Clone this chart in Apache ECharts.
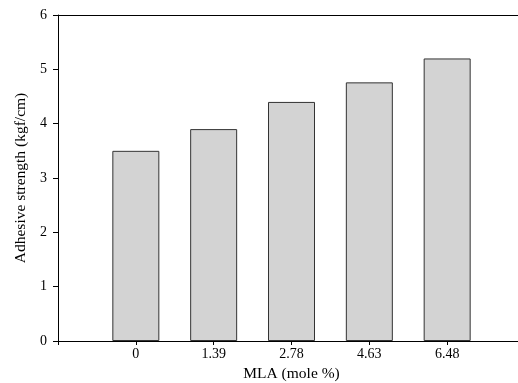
<!DOCTYPE html>
<html><head><meta charset="utf-8">
<script src="https://cdn.jsdelivr.net/npm/echarts@6/dist/echarts.min.js"></script>
<style>html,body{margin:0;padding:0;background:#fff}#c{width:518px;height:383px}</style>
</head><body><div id="c"></div>
<script>
var categories = ['', '0', '1.39', '2.78', '4.63', '6.48', ''];
var strength = [null, 3.5, 3.9, 4.4, 4.76, 5.2, null];
var yTicks = [0, 1, 2, 3, 4, 5, 6];
var font = '"Liberation Serif", "Times New Roman", serif';
var chart = echarts.init(document.getElementById('c'));
chart.setOption({
  animation: false,
  grid: {left: 58, width: 467, top: 15, height: 326, containLabel: false, outerBoundsMode: 'none'},
  xAxis: [{
    type: 'category', data: categories, boundaryGap: false,
    name: 'MLA (mole %)', nameLocation: 'middle', nameGap: 18,
    nameTextStyle: {fontFamily: font, fontSize: 15.5, color: '#000'},
    axisLine: {lineStyle: {color: '#000', width: 1}},
    axisTick: {show: true, length: 4, lineStyle: {color: '#000'}},
    axisLabel: {fontFamily: font, fontSize: 14, color: '#000', margin: 6, interval: 0}
  }, {
    type: 'category', data: categories, boundaryGap: false, position: 'top',
    axisLine: {show: true, lineStyle: {color: '#000', width: 1}},
    axisTick: {show: false}, axisLabel: {show: false}
  }],
  yAxis: {
    type: 'value', min: yTicks[0], max: yTicks[yTicks.length - 1], interval: 1,
    name: 'Adhesive strength (kgf/cm)', nameLocation: 'middle', nameGap: 29,
    nameTextStyle: {fontFamily: font, fontSize: 15.5, color: '#000'},
    axisLine: {show: true, lineStyle: {color: '#000', width: 1}},
    axisTick: {show: true, length: 5, lineStyle: {color: '#000'}},
    axisLabel: {fontFamily: font, fontSize: 14, color: '#000', margin: 11},
    splitLine: {show: false}
  },
  series: [{
    type: 'bar', data: strength, barWidth: 47,
    itemStyle: {color: '#d3d3d3', borderColor: '#333', borderWidth: 1}
  }]
});
</script></body></html>
